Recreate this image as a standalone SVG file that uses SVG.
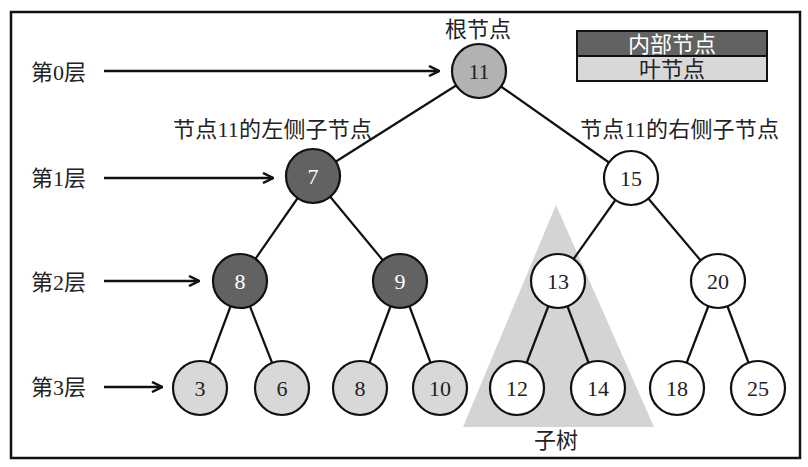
<svg xmlns="http://www.w3.org/2000/svg" width="808" height="467" viewBox="0 0 808 467">
<style>
.lbl{font-family:"Liberation Serif","Noto Sans CJK SC",serif;font-size:22px;fill:#222}
.num{font-family:"Liberation Serif",serif;font-size:22px;text-anchor:middle;dominant-baseline:central;fill:#222}
.nw{fill:#fff}
.node circle{stroke:#111;stroke-width:2.2}
.internal circle{fill:#626262}
.root circle{fill:#b2b2b2}
.leaf circle{fill:#d8d8d8}
.plain circle{fill:#fff}
.edge{stroke:#111;stroke-width:2.2;fill:none}
.arrow{stroke:#111;stroke-width:2.5;fill:none}
</style>
<defs>
<marker id="ah" viewBox="0 0 10 10" refX="9" refY="5" markerWidth="5" markerHeight="5" orient="auto" markerUnits="strokeWidth">
<path d="M1,1 L9,5 L1,9" fill="none" stroke="#111" stroke-width="2"/>
</marker>
</defs>
<rect x="0" y="0" width="808" height="467" fill="#fff"/>
<rect x="11" y="12" width="789" height="446" fill="none" stroke="#111" stroke-width="2.5"/>
<polygon points="556,205 463,427 654,427" fill="#d4d4d4"/>
<g id="legend">
<rect x="577" y="31" width="190" height="25" fill="#626262" stroke="#111" stroke-width="2"/>
<rect x="577" y="56" width="190" height="25" fill="#d8d8d8" stroke="#111" stroke-width="2"/>
<text x="672" y="52" class="lbl" text-anchor="middle" style="fill:#fff">内部节点</text>
<text x="672" y="77" class="lbl" text-anchor="middle">叶节点</text>
</g>
<g id="labels">
<text x="31" y="80" class="lbl">第0层</text>
<text x="31" y="186" class="lbl">第1层</text>
<text x="31" y="290" class="lbl">第2层</text>
<text x="31" y="395" class="lbl">第3层</text>
<text x="478" y="37" class="lbl" text-anchor="middle">根节点</text>
<text x="173" y="137" class="lbl" textLength="199" lengthAdjust="spacing">节点11的左侧子节点</text>
<text x="580" y="137" class="lbl" textLength="199" lengthAdjust="spacing">节点11的右侧子节点</text>
<text x="556" y="448" class="lbl" text-anchor="middle">子树</text>
</g>
<g id="connectors">
<line class="arrow" x1="104" y1="71" x2="439" y2="71" marker-end="url(#ah)"/>
<line class="arrow" x1="104" y1="178" x2="273" y2="178" marker-end="url(#ah)"/>
<line class="arrow" x1="104" y1="281" x2="199" y2="281" marker-end="url(#ah)"/>
<line class="arrow" x1="104" y1="387" x2="162" y2="387" marker-end="url(#ah)"/>
<line class="edge" x1="479" y1="71" x2="313" y2="176"/>
<line class="edge" x1="479" y1="71" x2="631" y2="178"/>
<line class="edge" x1="313" y1="176" x2="240" y2="281"/>
<line class="edge" x1="313" y1="176" x2="400" y2="281"/>
<line class="edge" x1="631" y1="178" x2="558" y2="281"/>
<line class="edge" x1="631" y1="178" x2="718" y2="281"/>
<line class="edge" x1="240" y1="281" x2="200" y2="388"/>
<line class="edge" x1="240" y1="281" x2="282" y2="388"/>
<line class="edge" x1="400" y1="281" x2="360" y2="388"/>
<line class="edge" x1="400" y1="281" x2="440" y2="388"/>
<line class="edge" x1="558" y1="281" x2="517" y2="388"/>
<line class="edge" x1="558" y1="281" x2="598" y2="388"/>
<line class="edge" x1="718" y1="281" x2="677" y2="388"/>
<line class="edge" x1="718" y1="281" x2="758" y2="388"/>
</g>
<g id="n11" class="node root"><circle cx="479" cy="71" r="27"/><text x="479" y="71" class="num">11</text></g>
<g id="n7" class="node internal"><circle cx="313" cy="176" r="27"/><text x="313" y="176" class="num nw">7</text></g>
<g id="n15" class="node plain"><circle cx="631" cy="178" r="27"/><text x="631" y="178" class="num">15</text></g>
<g id="n8a" class="node internal"><circle cx="240" cy="281" r="27"/><text x="240" y="281" class="num nw">8</text></g>
<g id="n9" class="node internal"><circle cx="400" cy="281" r="27"/><text x="400" y="281" class="num nw">9</text></g>
<g id="n13" class="node plain"><circle cx="558" cy="281" r="27"/><text x="558" y="281" class="num">13</text></g>
<g id="n20" class="node plain"><circle cx="718" cy="281" r="27"/><text x="718" y="281" class="num">20</text></g>
<g id="n3" class="node leaf"><circle cx="200" cy="388" r="27"/><text x="200" y="388" class="num">3</text></g>
<g id="n6" class="node leaf"><circle cx="282" cy="388" r="27"/><text x="282" y="388" class="num">6</text></g>
<g id="n8b" class="node leaf"><circle cx="360" cy="388" r="27"/><text x="360" y="388" class="num">8</text></g>
<g id="n10" class="node leaf"><circle cx="440" cy="388" r="27"/><text x="440" y="388" class="num">10</text></g>
<g id="n12" class="node plain"><circle cx="517" cy="388" r="27"/><text x="517" y="388" class="num">12</text></g>
<g id="n14" class="node plain"><circle cx="598" cy="388" r="27"/><text x="598" y="388" class="num">14</text></g>
<g id="n18" class="node plain"><circle cx="677" cy="388" r="27"/><text x="677" y="388" class="num">18</text></g>
<g id="n25" class="node plain"><circle cx="758" cy="388" r="27"/><text x="758" y="388" class="num">25</text></g>
</svg>
